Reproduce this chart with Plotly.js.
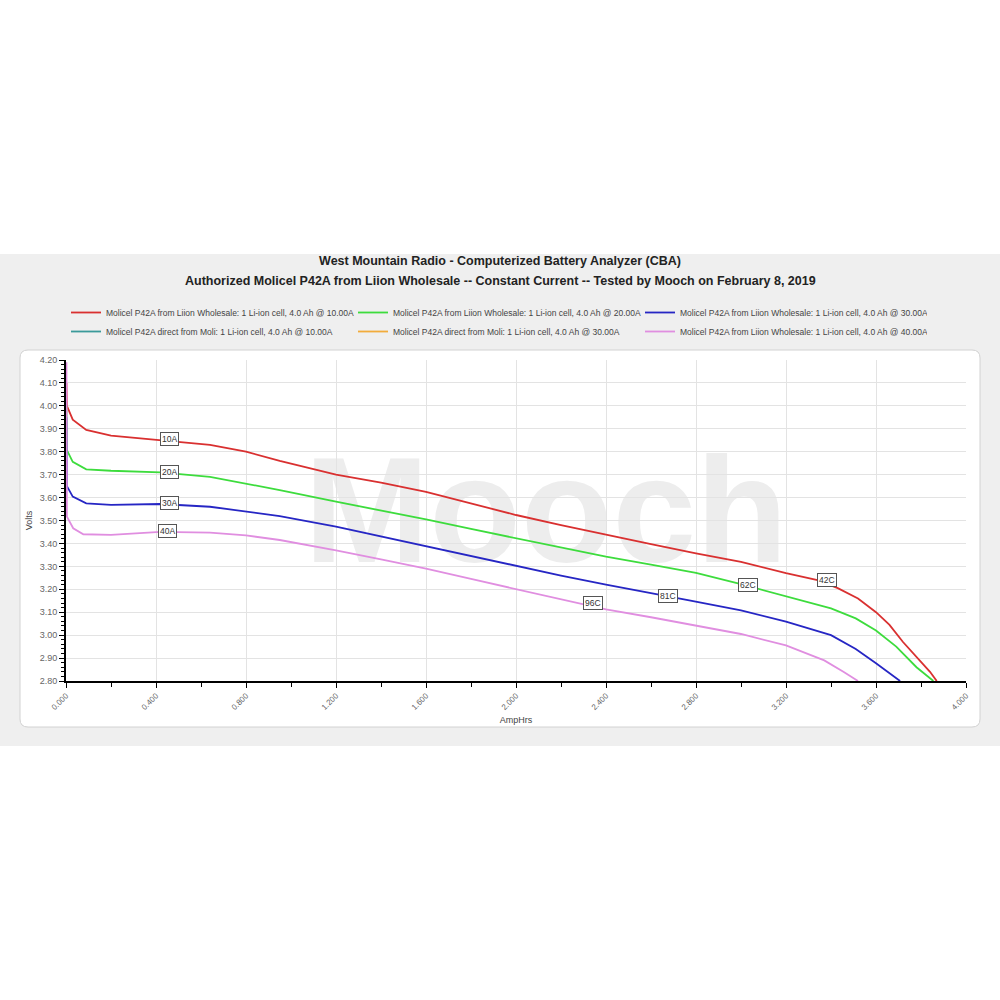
<!DOCTYPE html>
<html>
<head>
<meta charset="utf-8">
<script src="https://cdn.plot.ly/plotly-3.0.1.min.js"></script>
<style>html,body{margin:0;padding:0;background:#fff;}#chart{width:1000px;height:1000px;}</style>
</head>
<body>
<div id="chart"></div>
<script>
// ---- Data ----
const seriesNames = [
  "Molicel P42A from Liion Wholesale: 1 Li-ion cell, 4.0 Ah @ 10.00A",
  "Molicel P42A from Liion Wholesale: 1 Li-ion cell, 4.0 Ah @ 20.00A",
  "Molicel P42A from Liion Wholesale: 1 Li-ion cell, 4.0 Ah @ 30.00A",
  "Molicel P42A direct from Moli: 1 Li-ion cell, 4.0 Ah @ 10.00A",
  "Molicel P42A direct from Moli: 1 Li-ion cell, 4.0 Ah @ 30.00A",
  "Molicel P42A from Liion Wholesale: 1 Li-ion cell, 4.0 Ah @ 40.00A"
];

const ah10A    = [0.002, 0.004, 0.03, 0.09, 0.2, 0.42, 0.64, 0.8, 0.95, 1.2, 1.4, 1.6, 1.8, 2.0, 2.2, 2.4, 2.6, 2.8, 3.0, 3.2, 3.34, 3.43, 3.52, 3.6, 3.66, 3.72, 3.77, 3.81, 3.84, 3.87];
const volts10A = [4.10, 4.00, 3.94, 3.895, 3.87, 3.85, 3.83, 3.80, 3.76, 3.70, 3.665, 3.625, 3.575, 3.524, 3.48, 3.437, 3.397, 3.357, 3.32, 3.27, 3.24, 3.205, 3.16, 3.10, 3.045, 2.97, 2.915, 2.875, 2.84, 2.80];

const ah20A    = [0.002, 0.004, 0.03, 0.09, 0.2, 0.42, 0.64, 0.8, 0.95, 1.2, 1.4, 1.6, 1.8, 2.0, 2.2, 2.4, 2.6, 2.8, 3.0, 3.2, 3.4, 3.51, 3.6, 3.69, 3.78, 3.855];
const volts20A = [4.00, 3.807, 3.756, 3.723, 3.717, 3.71, 3.69, 3.66, 3.633, 3.582, 3.545, 3.505, 3.463, 3.422, 3.382, 3.342, 3.308, 3.272, 3.222, 3.17, 3.117, 3.073, 3.02, 2.95, 2.86, 2.80];

const ah30A    = [0.002, 0.004, 0.03, 0.09, 0.2, 0.42, 0.64, 0.8, 0.95, 1.2, 1.4, 1.6, 1.8, 2.0, 2.2, 2.4, 2.6, 2.77, 3.0, 3.2, 3.4, 3.51, 3.6, 3.66, 3.707];
const volts30A = [3.95, 3.65, 3.604, 3.575, 3.568, 3.572, 3.56, 3.54, 3.519, 3.473, 3.43, 3.386, 3.343, 3.30, 3.26, 3.22, 3.185, 3.152, 3.108, 3.059, 3.0, 2.94, 2.877, 2.835, 2.80];

// series listed in the legend but not visible on the plot
const ahMoli10A    = [null];
const voltsMoli10A = [null];
const ahMoli30A    = [null];
const voltsMoli30A = [null];

const ah40A    = [0.002, 0.004, 0.032, 0.077, 0.2, 0.42, 0.64, 0.8, 0.95, 1.2, 1.4, 1.6, 1.8, 2.0, 2.2, 2.4, 2.6, 2.77, 3.0, 3.2, 3.37, 3.455, 3.52];
const volts40A = [4.19, 3.517, 3.466, 3.44, 3.437, 3.45, 3.447, 3.435, 3.415, 3.37, 3.33, 3.29, 3.245, 3.20, 3.155, 3.112, 3.078, 3.046, 3.005, 2.955, 2.89, 2.84, 2.80];

const labelTexts = ["10A", "20A", "30A", "40A", "42C", "62C", "81C", "96C"];
const labelAh    = [0.462, 0.462, 0.462, 0.449, 3.382, 3.031, 2.676, 2.342];
const labelVolts = [3.855, 3.712, 3.576, 3.454, 3.24, 3.219, 3.171, 3.140];

const xTickVals = [0, 0.4, 0.8, 1.2, 1.6, 2.0, 2.4, 2.8, 3.2, 3.6, 4.0];
const yTickVals = [2.8, 2.9, 3.0, 3.1, 3.2, 3.3, 3.4, 3.5, 3.6, 3.7, 3.8, 3.9, 4.0, 4.1, 4.2];

const titleLine1 = "West Mountain Radio - Computerized Battery Analyzer (CBA)";
const titleLine2 = "Authorized Molicel P42A from Liion Wholesale -- Constant Current -- Tested by Mooch on February 8, 2019";

// ---- Styles ----
const colors = ["#d93030", "#3ddc3d", "#2626c4", "#3a9a9a", "#f2ac3c", "#e08ee0"];
const xs = [ah10A, ah20A, ah30A, ahMoli10A, ahMoli30A, ah40A];
const ys = [volts10A, volts20A, volts30A, voltsMoli10A, voltsMoli30A, volts40A];

const traces = seriesNames.map((n, i) => ({
  type: "scatter", mode: "lines", name: n,
  x: xs[i], y: ys[i],
  line: {color: colors[i], width: 1.8},
  hoverinfo: "skip"
}));

const FONT = "Liberation Sans, Arial, sans-serif";

// paper coordinate helpers for the decorative frame
const L = 66, R = 966, T = 360, B = 681;
const px = v => (v - L) / (R - L);
const py = v => (B - v) / (B - T);

const annotations = labelTexts.map((t, i) => ({
  x: labelAh[i], y: labelVolts[i], xref: "x", yref: "y",
  text: t, showarrow: false,
  font: {family: FONT, size: 8.5, color: "#333"},
  bgcolor: "#ffffff", bordercolor: "#555", borderwidth: 1, borderpad: 1
}));
annotations.push({
  x: px(500), y: py(281), xref: "paper", yref: "paper",
  xanchor: "center", yanchor: "middle", showarrow: false,
  text: "<b>" + titleLine2 + "</b>",
  font: {family: FONT, size: 12.5, color: "#222"}
});

function roundRect(x0, y0, x1, y1, r) {
  const rx = r / (R - L), ry = r / (B - T);
  const X0 = px(x0), X1 = px(x1), Y0 = py(y1), Y1 = py(y0);
  return `M${X0 + rx},${Y0} L${X1 - rx},${Y0} Q${X1},${Y0} ${X1},${Y0 + ry} L${X1},${Y1 - ry} Q${X1},${Y1} ${X1 - rx},${Y1} L${X0 + rx},${Y1} Q${X0},${Y1} ${X0},${Y1 - ry} L${X0},${Y0 + ry} Q${X0},${Y0} ${X0 + rx},${Y0} Z`;
}

const shapes = [
  {type: "rect", xref: "paper", yref: "paper", layer: "below",
   x0: px(-5), x1: px(1005), y0: py(746), y1: py(254),
   fillcolor: "#efefef", line: {width: 0}},
  {type: "path", xref: "paper", yref: "paper", layer: "below",
   path: roundRect(20, 350, 980, 727, 8),
   fillcolor: "#ffffff", line: {color: "#d2d2d2", width: 1}},
  {type: "rect", xref: "paper", yref: "paper", layer: "below",
   x0: px(306), x1: px(786), y0: py(566), y1: py(426),
   fillcolor: "rgba(0,0,0,0)", line: {width: 0},
   label: {text: "<b>Mooch</b>", textposition: "middle center",
           font: {family: FONT, size: 150, color: "#ededed"}}}
];

const layout = {
  width: 1000, height: 1000,
  paper_bgcolor: "#ffffff", plot_bgcolor: "rgba(0,0,0,0)",
  margin: {l: L, r: 1000 - R, t: T, b: 1000 - B, pad: 0},
  font: {family: FONT, color: "#333"},
  title: {
    text: "<b>" + titleLine1 + "</b>",
    font: {family: FONT, size: 12.5, color: "#222"},
    x: 0.5, xanchor: "center", xref: "container",
    y: 1 - 261 / 1000, yanchor: "middle", yref: "container"
  },
  showlegend: true,
  legend: {
    orientation: "h", x: 0, xanchor: "left", y: py(298), yanchor: "top",
    xref: "paper", yref: "paper",
    entrywidth: 242, entrywidthmode: "pixels",
    font: {family: FONT, size: 8.5, color: "#444"},
    bgcolor: "rgba(0,0,0,0)", itemwidth: 30, tracegroupgap: 0
  },
  xaxis: {
    range: [0, 4], tickvals: xTickVals, tickformat: ".3f", tickangle: -45,
    ticks: "outside", ticklen: 5, tickwidth: 1, tickcolor: "#000",
    showline: true, linecolor: "#000", linewidth: 2,
    showgrid: true, gridcolor: "#e3e3e3", gridwidth: 1, zeroline: false,
    tickfont: {family: FONT, size: 8, color: "#666"},
    minor: {dtick: 0.2, tick0: 0, ticks: "outside", ticklen: 4, tickcolor: "#000", showgrid: false},
    title: {text: "AmpHrs", font: {family: FONT, size: 9, color: "#444"}, standoff: 6},
    fixedrange: true
  },
  yaxis: {
    range: [2.8, 4.2], tickvals: yTickVals, tickformat: ".2f",
    ticks: "outside", ticklen: 5, tickwidth: 1, tickcolor: "#000",
    showline: true, linecolor: "#000", linewidth: 2,
    showgrid: true, gridcolor: "#e3e3e3", gridwidth: 1, zeroline: false,
    tickfont: {family: FONT, size: 9, color: "#666"},
    minor: {dtick: 0.02, tick0: 2.8, ticks: "outside", ticklen: 3, tickcolor: "#000", showgrid: false},
    title: {text: "Volts", font: {family: FONT, size: 9, color: "#444"}, standoff: 6},
    fixedrange: true
  },
  shapes: shapes,
  annotations: annotations
};

Plotly.newPlot("chart", traces, layout, {displayModeBar: false, staticPlot: true});
</script>
</body>
</html>
